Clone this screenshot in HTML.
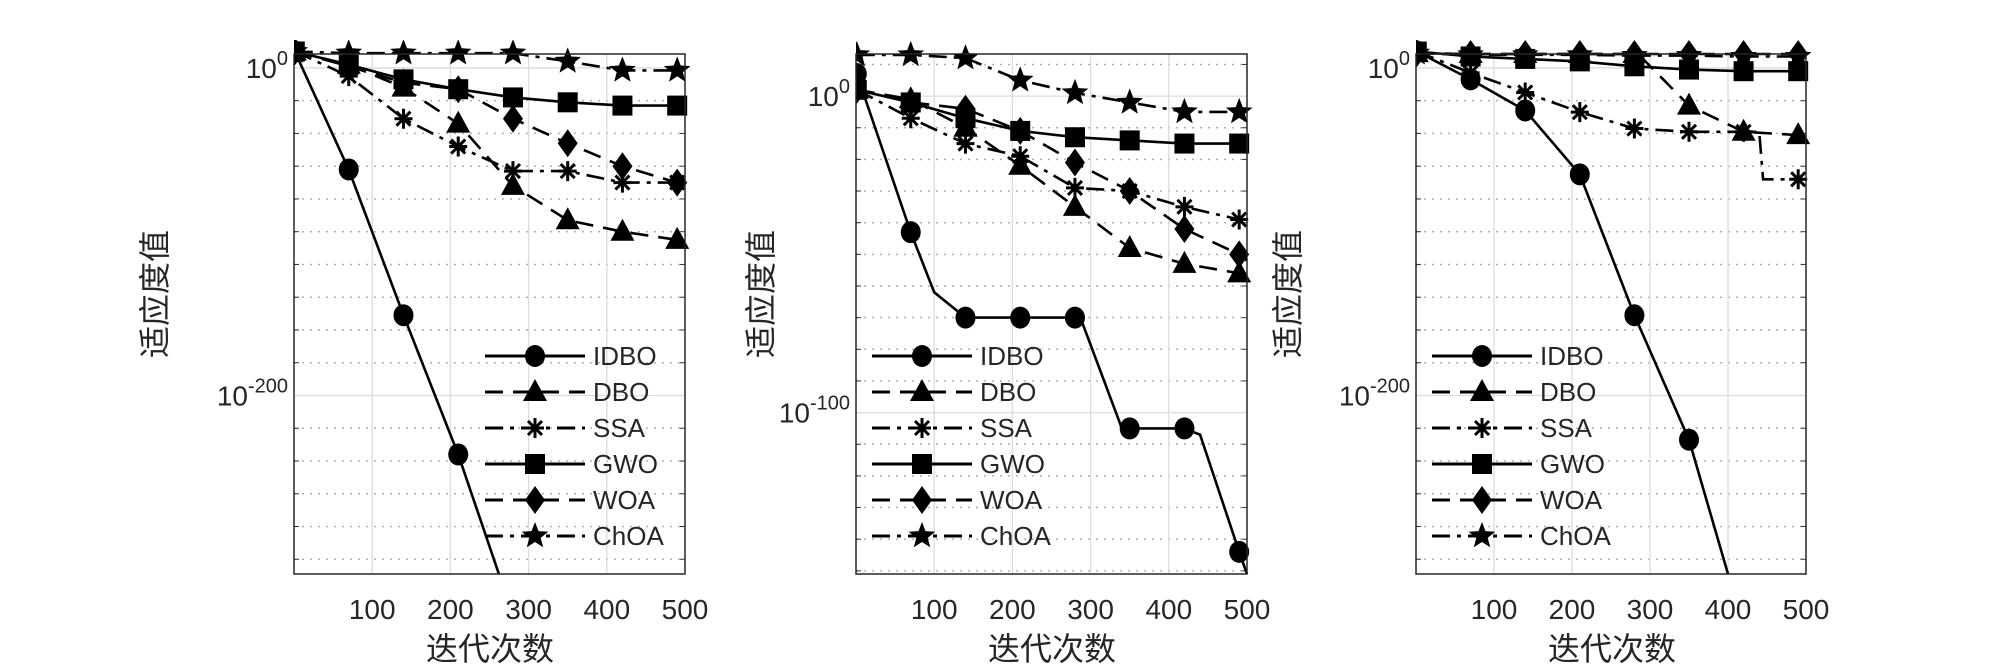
<!DOCTYPE html>
<html><head><meta charset="utf-8">
<style>
html,body{margin:0;padding:0;background:#fff;}
svg{display:block;}
text{font-family:"Liberation Sans","Noto Sans CJK SC",sans-serif;fill:#262626;}
</style></head>
<body>
<svg id="fig" width="2000" height="670" viewBox="0 0 2000 670" xmlns="http://www.w3.org/2000/svg"></svg>
<script>
const seriesNames = ["IDBO","DBO","SSA","GWO","WOA","ChOA"];
const xTicks = [100,200,300,400,500];
// panel 1 data: iterations and log10 fitness
const p1IDBOx = [1,70,140,210,262,300];
const p1IDBOy = [10,-62,-151,-236,-309,-360];
const p1DBOx = [1,70,140,210,280,350,420,490,500];
const p1DBOy = [10,2,-12,-34,-72,-93,-100,-105,-105];
const p1SSAx = [1,70,140,210,280,350,420,490,500];
const p1SSAy = [10,-5,-31,-48,-63,-63,-70,-70,-70];
const p1GWOx = [1,70,140,210,280,350,420,490,500];
const p1GWOy = [10,2,-7,-13,-18,-21,-23,-23,-23];
const p1WOAx = [1,70,140,210,280,350,420,490,500];
const p1WOAy = [10,1,-9,-13,-31,-46,-60,-70,-70];
const p1ChOAx = [1,70,140,210,280,350,420,490,500];
const p1ChOAy = [10,9,9,9,9,4,-1.5,-1.5,-1.5];
// panel 2
const p2IDBOx = [1,70,100,140,210,280,290,340,350,420,440,490,500];
const p2IDBOy = [7,-43,-62,-70,-70,-70,-72,-105,-105,-105,-107,-144,-151];
const p2DBOx = [1,70,140,210,280,350,420,490,500];
const p2DBOy = [2,-1,-10,-22,-35,-48,-53,-56,-56];
const p2SSAx = [1,70,140,210,280,350,420,490,500];
const p2SSAy = [2,-7,-15,-19,-29,-30,-35,-39,-39];
const p2GWOx = [1,70,140,210,280,350,420,490,500];
const p2GWOy = [2,-2,-7,-11,-13,-14,-15,-15,-15];
const p2WOAx = [1,70,140,210,280,350,420,490,500];
const p2WOAy = [2,-2,-4,-11,-21,-30,-42,-50,-52];
const p2ChOAx = [1,70,140,210,280,350,420,490,500];
const p2ChOAy = [13,13,12,5,1,-2,-5,-5,-5];
// panel 3
const p3IDBOx = [1,70,140,210,280,350,400,420];
const p3IDBOy = [10,-7,-26,-65,-151,-227,-309,-330];
const p3DBOx = [1,70,140,210,280,290,350,420,490,500];
const p3DBOy = [9,8.5,8.5,8.5,8.5,6,-23,-39,-41,-41];
const p3SSAx = [1,70,140,210,280,350,420,440,445,490,500];
const p3SSAy = [10,-3,-15,-27,-37,-39,-39,-39,-68,-68,-68];
const p3GWOx = [1,70,140,210,280,350,420,490,500];
const p3GWOy = [10,7,5.5,4,1,-1,-2,-2,-2];
const p3WOAx = [1,70,140,210,280,350,420,490,500];
const p3WOAy = [9,8.5,8.5,8.5,8.5,8.5,8.5,8.5,8.5];
const p3ChOAx = [1,70,140,210,280,350,420,490,500];
const p3ChOAy = [9,8,8,8,7.5,7.5,7,7,7];

const NS="http://www.w3.org/2000/svg";
const svg=document.getElementById('fig');
function mk(tag,attrs,parent){const e=document.createElementNS(NS,tag);for(const k in attrs)e.setAttribute(k,attrs[k]);(parent||svg).appendChild(e);return e;}

const panels=[
 {x0:294,x1:685,ymaxE:8.5,yminE:-309,ticks:[0,-200],labels:["0","-200"],minor:20,ylabX:166,xlabX:490,legX:485,
  data:[[p1IDBOx,p1IDBOy],[p1DBOx,p1DBOy],[p1SSAx,p1SSAy],[p1GWOx,p1GWOy],[p1WOAx,p1WOAy],[p1ChOAx,p1ChOAy]]},
 {x0:856,x1:1247,ymaxE:13.3,yminE:-151,ticks:[0,-100],labels:["0","-100"],minor:10,ylabX:772,xlabX:1052,legX:872,
  data:[[p2IDBOx,p2IDBOy],[p2DBOx,p2DBOy],[p2SSAx,p2SSAy],[p2GWOx,p2GWOy],[p2WOAx,p2WOAy],[p2ChOAx,p2ChOAy]]},
 {x0:1416,x1:1806,ymaxE:8.5,yminE:-309,ticks:[0,-200],labels:["0","-200"],minor:20,ylabX:1299,xlabX:1612,legX:1432,
  data:[[p3IDBOx,p3IDBOy],[p3DBOx,p3DBOy],[p3SSAx,p3SSAy],[p3GWOx,p3GWOy],[p3WOAx,p3WOAy],[p3ChOAx,p3ChOAy]]}
];
const Y0=54,Y1=574;
const dashes=["none","18,10","18,7,4,7","none","18,10","18,7,4,7"];
const markers=["circle","triangle","asterisk","square","diamond","star"];

function drawMarker(type,cx,cy,g){
  let e;
  if(type==="circle") e=mk('ellipse',{cx:cx,cy:cy,rx:10,ry:11,fill:'#000'},g);
  else if(type==="square") e=mk('rect',{x:cx-10,y:cy-10,width:20,height:20,fill:'#000'},g);
  else if(type==="triangle") e=mk('polygon',{points:`${cx},${cy-13} ${cx-12},${cy+9} ${cx+12},${cy+9}`,fill:'#000'},g);
  else if(type==="diamond") e=mk('polygon',{points:`${cx},${cy-14} ${cx+10},${cy} ${cx},${cy+14} ${cx-10},${cy}`,fill:'#000'},g);
  else if(type==="star"){let p=[];for(let i=0;i<10;i++){const r=i%2?6:14;const a=-Math.PI/2+i*Math.PI/5;p.push((cx+r*Math.cos(a)).toFixed(1)+","+(cy+r*Math.sin(a)).toFixed(1));}
    e=mk('polygon',{points:p.join(' '),fill:'#000'},g);}
  else {e=mk('path',{d:`M${cx-9},${cy}H${cx+9}M${cx},${cy-10}V${cy+10}M${cx-7},${cy-7}L${cx+7},${cy+7}M${cx-7},${cy+7}L${cx+7},${cy-7}`,stroke:'#000','stroke-width':3,fill:'none'},g);}
  return e;
}

panels.forEach((P,pi)=>{
  const sx=v=>P.x0+(v/500)*(P.x1-P.x0);
  const sy=e=>Y0+(P.ymaxE-e)/(P.ymaxE-P.yminE)*(Y1-Y0);
  const g=mk('g',{});
  
  
  const cid='clip'+pi;
  const defs=mk('defs',{},g);
  const cp=mk('clipPath',{id:cid},defs);
  mk('rect',{x:P.x0,y:Y0-14,width:P.x1-P.x0+14,height:Y1-Y0+14},cp);
  for(let e=Math.floor(P.ymaxE/P.minor)*P.minor;e>P.yminE;e-=P.minor){
    if(P.ticks.includes(e))continue;
    const y=sy(e);
    const l=mk('line',{x1:P.x0,x2:P.x1,y1:y,y2:y,stroke:'#b0b0b0','stroke-width':1.5,'stroke-dasharray':'2,6'},g);
    
    
    mk('line',{x1:P.x0,x2:P.x0+5,y1:y,y2:y,stroke:'#333','stroke-width':1},g);
    mk('line',{x1:P.x1,x2:P.x1-5,y1:y,y2:y,stroke:'#333','stroke-width':1},g);
  }
  xTicks.forEach(t=>{
    const x=sx(t);
    if(t<500){const l=mk('line',{x1:x,x2:x,y1:Y0,y2:Y1,stroke:'#dcdcdc','stroke-width':1.3},g);
      
      }
    const tx=mk('text',{x:x,y:619,'font-size':28,'text-anchor':'middle'},g);
    tx.textContent=t;
    
    
  });
  P.ticks.forEach((e,i)=>{
    const y=sy(e);
    const l=mk('line',{x1:P.x0,x2:P.x1,y1:y,y2:y,stroke:'#dcdcdc','stroke-width':1.3},g);
    
    
    const tx=mk('text',{x:P.x0-6,y:y+10,'font-size':28,'text-anchor':'end'},g);
    const t1=mk('tspan',{},tx);t1.textContent="10";
    const t2=mk('tspan',{dy:-13,'font-size':20},tx);t2.textContent=P.labels[i];
    
    
  });
  P.data.forEach((d,si)=>{
    const sg=mk('g',{'clip-path':`url(#${cid})`},g);
    
    
    const pts=d[0].map((x,i)=>sx(x).toFixed(1)+','+sy(d[1][i]).toFixed(1)).join(' ');
    mk('polyline',{points:pts,fill:'none',stroke:'#000','stroke-width':2.6,'stroke-dasharray':dashes[si]},sg);
    d[0].forEach((x,i)=>{if(x===1||x%70===0){drawMarker(markers[si],sx(x),sy(d[1][i]),sg);}});
  });
  const box=mk('rect',{x:P.x0,y:Y0,width:P.x1-P.x0,height:Y1-Y0,fill:'none',stroke:'#262626','stroke-width':1.5},g);
  
  
  const yl=mk('text',{x:P.ylabX,y:294,'font-size':32,'text-anchor':'middle',transform:`rotate(-90 ${P.ylabX} 294)`},g);
  yl.textContent="适应度值";
  
  
  const xl=mk('text',{x:P.xlabX,y:660,'font-size':32,'text-anchor':'middle'},g);
  xl.textContent="迭代次数";
  
  
  const lg=mk('g',{},g);
  
  
  seriesNames.forEach((n,si)=>{
    const y=356+si*36;
    const eg=mk('g',{},lg);
    
    
    mk('line',{x1:P.legX,x2:P.legX+100,y1:y,y2:y,stroke:'#000','stroke-width':3,'stroke-dasharray':dashes[si]},eg);
    drawMarker(markers[si],P.legX+50,y,eg);
    const t=mk('text',{x:P.legX+108,y:y+9,'font-size':26,fill:'#000'},eg);
    t.textContent=n;
  });
});
</script>
</body></html>
